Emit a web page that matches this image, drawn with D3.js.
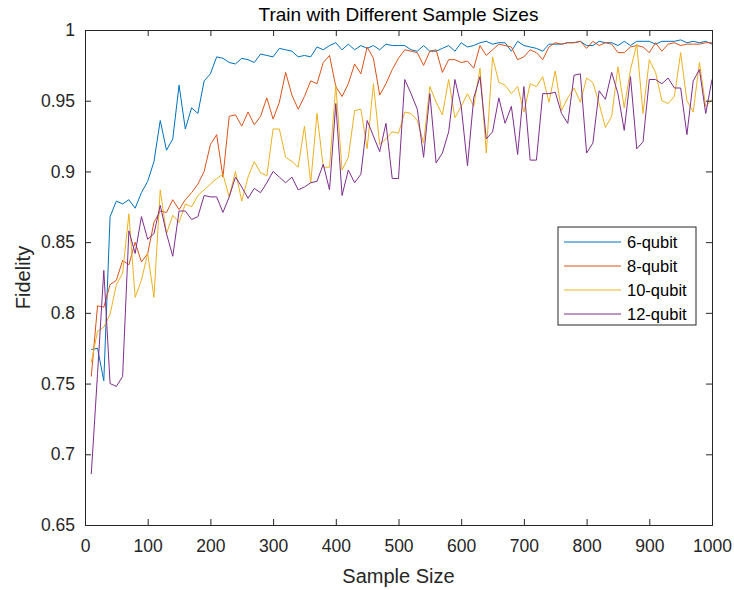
<!DOCTYPE html>
<meta charset="utf-8">
<head>
  <title>Train with Different Sample Sizes</title>
</head>

<style>
  body {
    margin: 0;
    background: #fff;
    font-family: "Liberation Sans", Helvetica, Arial, sans-serif;
  }
  .axis path, .axis line {
    stroke: #262626;
  }
  .axis text {
    font-size: 17.5px;
    fill: #262626;
  }
</style>

<body>
<svg id="chart" width="734" height="590"></svg>

<script src="https://cdnjs.cloudflare.com/ajax/libs/d3/7.8.5/d3.min.js"></script>
<script>
  // sample sizes 10, 20, ... 1000
  var sampleSizes = d3.range(10, 1001, 10);

  var qubit6 = [
    0.774, 0.775, 0.752, 0.868, 0.879, 0.877, 0.880, 0.874, 0.885, 0.893,
    0.907, 0.936, 0.915, 0.923, 0.961, 0.930, 0.945, 0.941, 0.964, 0.969,
    0.981, 0.980, 0.977, 0.976, 0.980, 0.979, 0.977, 0.983, 0.982, 0.981,
    0.987, 0.986, 0.985, 0.981, 0.982, 0.981, 0.988, 0.986, 0.989, 0.991,
    0.986, 0.990, 0.986, 0.989, 0.987, 0.989, 0.986, 0.990, 0.989, 0.989,
    0.989, 0.986, 0.985, 0.989, 0.985, 0.985, 0.987, 0.989, 0.985, 0.991,
    0.988, 0.989, 0.991, 0.992, 0.990, 0.991, 0.991, 0.985, 0.992, 0.989,
    0.988, 0.987, 0.985, 0.990, 0.990, 0.990, 0.991, 0.991, 0.992, 0.989,
    0.989, 0.992, 0.991, 0.991, 0.989, 0.992, 0.989, 0.992, 0.992, 0.992,
    0.990, 0.992, 0.992, 0.992, 0.993, 0.991, 0.992, 0.991, 0.992, 0.990
  ];

  var qubit8 = [
    0.755, 0.805, 0.804, 0.820, 0.823, 0.837, 0.834, 0.850, 0.836, 0.842,
    0.864, 0.872, 0.871, 0.880, 0.873, 0.880, 0.885, 0.891, 0.900, 0.919,
    0.926, 0.896, 0.939, 0.940, 0.932, 0.942, 0.933, 0.939, 0.952, 0.937,
    0.949, 0.970, 0.954, 0.944, 0.953, 0.964, 0.962, 0.977, 0.982, 0.960,
    0.953, 0.962, 0.976, 0.969, 0.988, 0.980, 0.954, 0.962, 0.972, 0.980,
    0.986, 0.985, 0.984, 0.975, 0.985, 0.986, 0.970, 0.979, 0.979, 0.977,
    0.978, 0.973, 0.989, 0.982, 0.986, 0.990, 0.989, 0.988, 0.979, 0.981,
    0.986, 0.984, 0.979, 0.988, 0.991, 0.990, 0.991, 0.991, 0.992, 0.987,
    0.992, 0.989, 0.991, 0.990, 0.984, 0.984, 0.988, 0.989, 0.988, 0.984,
    0.991, 0.985, 0.990, 0.991, 0.989, 0.990, 0.990, 0.990, 0.991, 0.991
  ];

  var qubit10 = [
    0.765, 0.787, 0.790, 0.799, 0.820, 0.828, 0.870, 0.811, 0.823, 0.842,
    0.811, 0.887, 0.856, 0.869, 0.864, 0.877, 0.875, 0.883, 0.887, 0.891,
    0.895, 0.898, 0.882, 0.900, 0.879, 0.896, 0.907, 0.899, 0.897, 0.930,
    0.930, 0.910, 0.907, 0.903, 0.932, 0.892, 0.941, 0.903, 0.903, 0.961,
    0.901, 0.910, 0.943, 0.944, 0.916, 0.962, 0.919, 0.923, 0.928, 0.927,
    0.942, 0.941, 0.936, 0.920, 0.960, 0.949, 0.940, 0.965, 0.938, 0.946,
    0.955, 0.946, 0.973, 0.913, 0.981, 0.963, 0.961, 0.955, 0.960, 0.942,
    0.962, 0.960, 0.967, 0.949, 0.971, 0.943, 0.952, 0.959, 0.949, 0.966,
    0.963, 0.948, 0.931, 0.939, 0.974, 0.945, 0.972, 0.990, 0.941, 0.979,
    0.970, 0.950, 0.948, 0.953, 0.984, 0.950, 0.942, 0.977, 0.946, 0.951
  ];

  var qubit12 = [
    0.686, 0.757, 0.830, 0.750, 0.748, 0.755, 0.858, 0.842, 0.868, 0.852,
    0.856, 0.876, 0.856, 0.840, 0.872, 0.872, 0.866, 0.868, 0.883, 0.882,
    0.882, 0.871, 0.882, 0.896, 0.889, 0.881, 0.888, 0.885, 0.892, 0.900,
    0.896, 0.892, 0.896, 0.887, 0.889, 0.892, 0.893, 0.905, 0.887, 0.948,
    0.883, 0.901, 0.892, 0.898, 0.936, 0.925, 0.914, 0.934, 0.895, 0.895,
    0.965, 0.955, 0.944, 0.910, 0.955, 0.906, 0.913, 0.928, 0.965, 0.946,
    0.904, 0.952, 0.967, 0.923, 0.928, 0.952, 0.934, 0.946, 0.912, 0.960,
    0.908, 0.908, 0.955, 0.955, 0.956, 0.941, 0.934, 0.968, 0.969, 0.913,
    0.920, 0.957, 0.951, 0.970, 0.955, 0.929, 0.967, 0.916, 0.921, 0.965,
    0.965, 0.962, 0.966, 0.959, 0.959, 0.926, 0.964, 0.972, 0.941, 0.965
  ];

  var seriesNames = ["6-qubit", "8-qubit", "10-qubit", "12-qubit"];
  var seriesColors = ["#0072BD", "#D95319", "#EDB120", "#7E2F8E"];
  var seriesValues = [qubit6, qubit8, qubit10, qubit12];

  var xTicks = d3.range(0, 1001, 100);
  var yTicks = [0.65, 0.7, 0.75, 0.8, 0.85, 0.9, 0.95, 1];

  var margin = {top: 30, right: 22, bottom: 65, left: 85};
  var width = 734 - margin.left - margin.right;
  var height = 590 - margin.top - margin.bottom;

  var svg = d3.select('#chart');
  var g = svg.append('g')
    .attr('transform', 'translate(' + margin.left + ',' + margin.top + ')');

  var x = d3.scaleLinear().domain([0, 1000]).range([0, width]);
  var y = d3.scaleLinear().domain([0.65, 1]).range([height, 0]);

  var yFormat = function(d) { return String(+d.toFixed(2)); };

  // lines
  var line = d3.line()
    .x(function(d) { return x(d[0]); })
    .y(function(d) { return y(d[1]); });

  seriesValues.forEach(function(vals, i) {
    g.append('path')
      .datum(sampleSizes.map(function(s, j) { return [s, vals[j]]; }))
      .attr('fill', 'none')
      .attr('stroke', seriesColors[i])
      .attr('stroke-width', 1)
      .attr('d', line);
  });

  // axes (MATLAB style box with inward ticks)
  g.append('g')
    .attr('class', 'axis')
    .attr('transform', 'translate(0,' + height + ')')
    .call(d3.axisBottom(x).tickValues(xTicks).tickSize(-6).tickPadding(15).tickFormat(d3.format('d')));

  g.append('g')
    .attr('class', 'axis')
    .call(d3.axisTop(x).tickValues(xTicks).tickSize(-6).tickFormat(''));

  g.append('g')
    .attr('class', 'axis')
    .call(d3.axisLeft(y).tickValues(yTicks).tickSize(-6).tickPadding(10).tickFormat(yFormat));

  g.append('g')
    .attr('class', 'axis')
    .attr('transform', 'translate(' + width + ',0)')
    .call(d3.axisRight(y).tickValues(yTicks).tickSize(-6).tickFormat(''));

  // title and labels
  svg.append('text')
    .attr('x', margin.left + width / 2)
    .attr('y', 21)
    .attr('text-anchor', 'middle')
    .style('font-size', '19px')
    .style('fill', '#000')
    .text('Train with Different Sample Sizes');

  svg.append('text')
    .attr('x', margin.left + width / 2)
    .attr('y', 583)
    .attr('text-anchor', 'middle')
    .style('font-size', '20px')
    .style('fill', '#262626')
    .text('Sample Size');

  svg.append('text')
    .attr('transform', 'translate(30,' + (margin.top + height / 2) + ') rotate(-90)')
    .attr('text-anchor', 'middle')
    .style('font-size', '20px')
    .style('fill', '#262626')
    .text('Fidelity');

  // legend
  var legend = svg.append('g').attr('transform', 'translate(558,227)');
  legend.append('rect')
    .attr('width', 138)
    .attr('height', 98)
    .attr('fill', '#fff')
    .attr('stroke', '#262626')
    .attr('stroke-width', 1);

  seriesNames.forEach(function(name, i) {
    var row = legend.append('g').attr('transform', 'translate(0,' + (15 + i * 24) + ')');
    row.append('line')
      .attr('x1', 6).attr('x2', 63)
      .attr('stroke', seriesColors[i])
      .attr('stroke-width', 1);
    row.append('text')
      .attr('x', 69)
      .attr('dy', '0.35em')
      .style('font-size', '16.5px')
      .style('fill', '#000')
      .text(name);
  });
</script>
</body>
</html>
